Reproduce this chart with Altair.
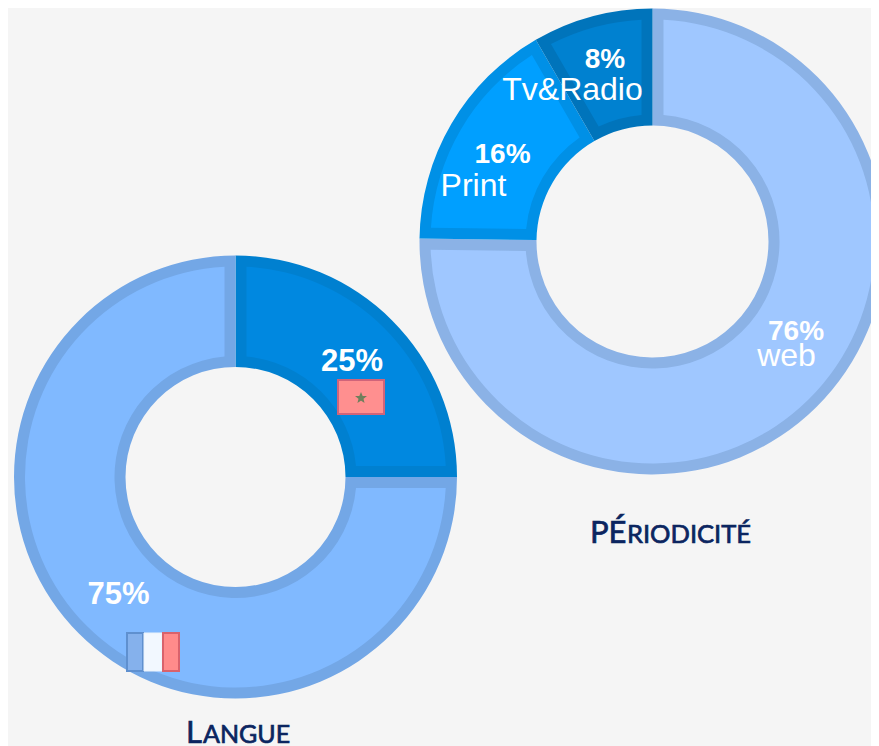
import altair as alt
import pandas as pd

# Values (slice sizes as drawn; the printed labels are rounded)
period_cats = ["web", "Print", "Tv&Radio"]
period_vals = [75.2, 16.45, 8.35]

# Order clockwise from 12 o'clock
lang_order_cats = ["ma", "fr"]
lang_order_vals = [25, 75]

all_cats = period_cats + ["fr", "ma"]
fills = ["#9fc7ff", "#009fff", "#0081d0", "#80b9ff", "#0088e0"]
strokes = ["#8bb2e6", "#0090e6", "#0074bb", "#73a7e6", "#0080d0"]

BG = "#f5f5f5"
NAVY = "#0b2560"
OFF = 8


def px(v):
    return v - OFF


def donut(cats, vals, cx, cy, R, r, band=11):
    df = pd.DataFrame({"cat": cats, "value": vals, "idx": range(len(cats))})
    base = alt.Chart(df)
    enc = dict(
        theta=alt.Theta("value:Q", stack=True, scale=alt.Scale(domain=[0, 100])),
        order=alt.Order("idx:Q"),
        x=alt.value(px(cx)),
        y=alt.value(px(cy)),
    )
    rim = base.mark_arc(outerRadius=R, innerRadius=r).encode(
        color=alt.Color("cat:N", legend=None,
                        scale=alt.Scale(domain=all_cats, range=strokes)),
        **enc,
    )
    ri, ro = r + band, R - band
    pad = 2 * band / (ri ** 2 + ro ** 2) ** 0.5
    core = base.mark_arc(outerRadius=ro, innerRadius=ri, padAngle=pad).encode(
        fill=alt.Fill("cat:N", legend=None,
                      scale=alt.Scale(domain=all_cats, range=fills)),
        **enc,
    )
    return [rim, core]


def label(txt, x, y, size, bold=False, font="Liberation Sans", color="white", align="center", heavy=0):
    kw = dict(stroke=color, strokeWidth=heavy) if heavy else {}
    return (
        alt.Chart(pd.DataFrame({"t": [txt]}))
        .mark_text(fontSize=size, font=font, fontWeight="bold" if bold else "normal",
                   color=color, align=align, baseline="alphabetic", **kw)
        .encode(text="t:N", x=alt.value(px(x)), y=alt.value(px(y)))
    )


def box(x, y, x2, y2, fill, stroke, sw=2, op=1):
    return (
        alt.Chart(pd.DataFrame({"k": [0]}))
        .mark_rect(fill=fill, stroke=stroke, strokeWidth=sw, opacity=op)
        .encode(x=alt.value(px(x)), x2=alt.value(px(x2)),
                y=alt.value(px(y)), y2=alt.value(px(y2)))
    )


layers = []
layers += donut(period_cats, period_vals, 652.5, 241.5, 233, 116)
layers += donut(lang_order_cats, lang_order_vals, 235.5, 477, 221.5, 110)

layers += [
    label("76%", 796, 340, 28, True),
    label("web", 786.5, 366, 32),
    label("16%", 502.5, 163, 28, True),
    label("Print", 473.5, 196, 32),
    label("8%", 605, 68, 28, True),
    label("Tv&Radio", 572.5, 100, 32),
    label("25%", 352, 371, 31, True),
    label("75%", 118.5, 604, 31, True),
]

# Flags
layers += [
    box(338, 380, 384, 414, "#ff8f8f", "#d0647a"),
    alt.Chart(pd.DataFrame({"k": [0]}))
    .mark_point(shape="M0,-1L0.29,-0.31L0.95,-0.31L0.42,0.12L0.59,0.81L0,0.4L-0.59,0.81L-0.42,0.12L-0.95,-0.31L-0.29,-0.31Z",
                filled=False, stroke="#6f7f5c", strokeWidth=2, size=44, opacity=1)
    .encode(x=alt.value(px(361)), y=alt.value(px(398))),
    box(127, 633, 143, 671, "#85b1ec", "#5f90cf"),
    box(144, 633, 162, 671, "#f2f8ff", "#eaf2fb", 1),
    box(163, 633, 179, 671, "#ff8b8b", "#d9626c"),
]

# Small-capital titles
layers += [
    label("L", 186, 743, 31, font="Lato", color=NAVY, align="left", heavy=0.7),
    label("ANGUE", 203, 743, 25, font="Lato", color=NAVY, align="left", heavy=0.7),
    label("PÉ", 590, 543, 31, font="Lato", color=NAVY, align="left", heavy=0.7),
    label("RIODICITÉ", 627, 543, 25.5, font="Lato", color=NAVY, align="left", heavy=0.7),
]

chart = (
    alt.layer(*layers)
    .resolve_scale(color="shared", fill="shared", theta="shared")
    .properties(width=863, height=738, padding=0,
                autosize=alt.AutoSizeParams(type="none"),
                background=BG)
    .configure_view(stroke=None)
)

chart.save("out.html", embed_options={"renderer": "svg", "actions": False})
